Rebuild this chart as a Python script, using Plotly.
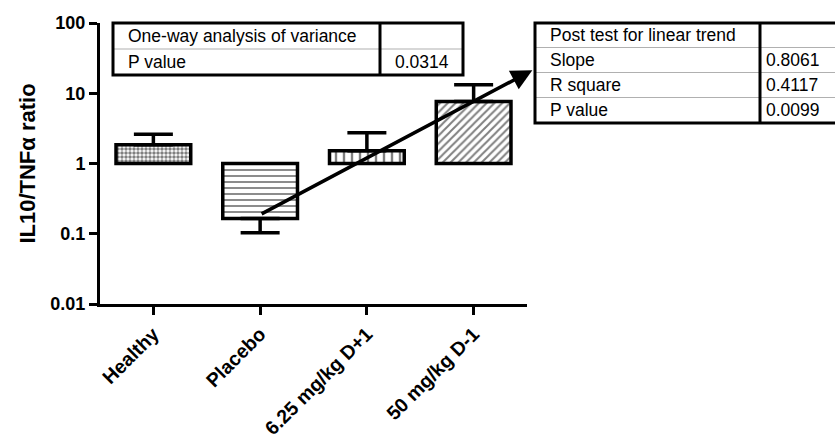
import plotly.graph_objects as go
import numpy as np

categories = ["Healthy", "Placebo", "6.25 mg/kg D+1", "50 mg/kg D-1"]
means = [1.85, 0.165, 1.52, 7.6]
err_ends = [2.6, 0.103, 2.75, 13.2]   # end of the one-sided error bar
patterns = [".", "-", "|", "/"]

table1_rows = [["One-way analysis of variance", ""], ["P value", "0.0314"]]
table2_rows = [["Post test for linear trend", ""], ["Slope", "0.8061"],
               ["R square", "0.4117"], ["P value", "0.0099"]]
trend_start = (1, 0.187)
trend_end_x = 3.55
slope = 0.8061

W, H = 835, 444
L, R, T, B = 100, 527, 23, 304

def px(x):
    return (x - L) / (R - L)

def py(y):
    return (B - y) / (B - T)

fig = go.Figure()
xs = list(range(len(categories)))
base = 1.0
fig.add_trace(go.Bar(
    x=xs, y=[m - base for m in means], base=[base] * len(means), width=0.7,
    marker=dict(color="white", line=dict(color="black", width=3.5),
                pattern=dict(shape=patterns, fgcolor="black", bgcolor="white",
                             size=[4, 6, 8, 5.5], solidity=[0.6, 0.3, 0.3, 0.35])),
    showlegend=False, hoverinfo="skip"))

up = [max(e - m, 0) for e, m in zip(err_ends, means)]
down = [max(m - e, 0) for e, m in zip(err_ends, means)]
fig.add_trace(go.Scatter(
    x=xs, y=means, mode="markers", marker=dict(size=0.1, color="rgba(0,0,0,0)"),
    error_y=dict(type="data", symmetric=False, array=up, arrayminus=down,
                 color="black", thickness=3.5, width=19.5),
    showlegend=False, hoverinfo="skip"))

# baseline at 1
fig.add_shape(type="line", xref="x", yref="y", x0=-0.5, x1=3.5, y0=0, y1=0,
              line=dict(color="black", width=2.5), layer="above")

# trend arrow
y0log = np.log10(trend_start[1])
y1log = y0log + slope * (trend_end_x - trend_start[0])
fig.add_annotation(x=trend_end_x, y=y1log, ax=trend_start[0], ay=y0log,
                   xref="x", yref="y", axref="x", ayref="y", showarrow=True,
                   arrowhead=2, arrowsize=1.2, arrowwidth=3.5, arrowcolor="black",
                   text="")

font_t = dict(family="Liberation Sans, Arial", size=17.5, color="black")

def draw_table(x0, x1, xdiv, ytops, rows, val_align, val_x):
    for i, row in enumerate(rows):
        ya, yb = ytops[i], ytops[i + 1]
        if i > 0:
            fig.add_shape(type="line", xref="paper", yref="paper",
                          x0=px(x0), x1=px(x1), y0=py(ya), y1=py(ya),
                          line=dict(color="#b0b0b0", width=1.2))
        ym = py((ya + yb) / 2)
        fig.add_annotation(x=px(x0 + 13), y=ym, xref="paper", yref="paper",
                           text=row[0], showarrow=False, xanchor="left",
                           yanchor="middle", font=font_t)
        if row[1]:
            fig.add_annotation(x=px(val_x), y=ym, xref="paper", yref="paper",
                               text=row[1], showarrow=False, xanchor=val_align,
                               yanchor="middle", font=font_t)
    fig.add_shape(type="rect", xref="paper", yref="paper", x0=px(x0), x1=px(x1),
                  y0=py(ytops[-1]), y1=py(ytops[0]),
                  line=dict(color="black", width=3))
    fig.add_shape(type="line", xref="paper", yref="paper", x0=px(xdiv), x1=px(xdiv),
                  y0=py(ytops[-1]), y1=py(ytops[0]),
                  line=dict(color="black", width=3))

draw_table(113, 463, 380, [23, 49, 75], table1_rows, "center", 421.5)
draw_table(535, 845, 760, [23, 47.5, 72.5, 97.5, 123], table2_rows, "left", 764)

fig.update_layout(
    width=W, height=H, margin=dict(l=L, r=W - R, t=T, b=H - B, autoexpand=False),
    plot_bgcolor="white", paper_bgcolor="white",
    font=dict(family="Liberation Sans, Arial", color="black"),
    xaxis=dict(range=[-0.5, 3.5], tickvals=xs, ticktext=categories, automargin=False,
               tickangle=-45, showline=True, linecolor="black", linewidth=3,
               ticks="outside", ticklen=8, tickwidth=3, tickcolor="black",
               showgrid=False, zeroline=False,
               tickfont=dict(family="Liberation Sans, Arial", size=19.5, color="black",
                             weight="bold")),
    yaxis=dict(type="log", range=[-2, 2], tickvals=[0.01, 0.1, 1, 10, 100],
               ticktext=["0.01", "0.1", "1", "10", "100"], automargin=False,
               showline=True, linecolor="black", linewidth=3,
               ticks="outside", ticklen=8, tickwidth=3, tickcolor="black",
               showgrid=False, zeroline=False,
               tickfont=dict(family="Liberation Sans, Arial", size=18, color="black",
                             weight="bold"),
               title=dict(text="IL10/TNFα ratio", standoff=9,
                          font=dict(family="Liberation Sans, Arial", size=22,
                                    color="black", weight="bold"))),
)

fig.write_html("out.html", config={"displayModeBar": False},
               post_script="document.body.style.margin='0';document.body.style.padding='0';")
